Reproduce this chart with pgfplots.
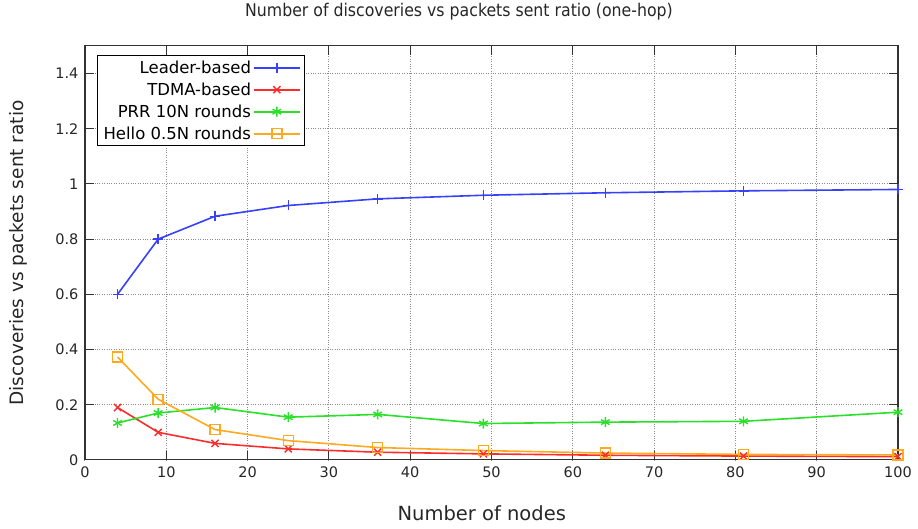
\documentclass[border=0pt]{standalone}
\usepackage{pgfplots}
\pgfplotsset{compat=1.18}
\usepackage{fontspec}
\setmainfont{DejaVu Sans}
\newfontfamily\titlefont{DejaVu Sans Condensed}
\definecolor{cLeader}{RGB}{55,65,250}
\definecolor{cTdma}{RGB}{250,45,45}
\definecolor{cPrr}{RGB}{40,225,40}
\definecolor{cHello}{RGB}{255,170,30}
\begin{document}
\begin{tikzpicture}
\begin{axis}[
  name=ax,
  scale only axis, width=813pt, height=414pt,
  xmin=0, xmax=100, ymin=0, ymax=1.5,
  xtick={0,10,20,30,40,50,60,70,80,90,100},
  ytick={0,0.2,0.4,0.6,0.8,1,1.2,1.4},
  yticklabels={0,0.2,0.4,0.6,0.8,1,1.2,1.4},
  /pgf/number format/assume math mode=true,
  grid=major,
  grid style={dotted, black!45, line width=1pt},
  axis line style={line width=1.1pt, black!80},
  tick style={line width=1.1pt, black!80},
  major tick length=9pt,
  tick align=inside,
  ticklabel style={font=\fontsize{14.5}{17}\selectfont, black!85},
  xticklabel style={yshift=-3pt},
  yticklabel style={xshift=-3pt},
  title={Number of discoveries vs packets sent ratio (one-hop)},
  title style={font=\titlefont\fontsize{17.5}{21}\selectfont, black!85, at={(axis description cs:0.46,1.068)}, anchor=center},
  xlabel={Number of nodes},
  xlabel style={font=\fontsize{19.5}{23}\selectfont, black!85, at={(axis description cs:0.488,-0.128)}, anchor=center},
  ylabel={Discoveries vs packets sent ratio},
  ylabel style={font=\fontsize{18.5}{22}\selectfont, black!85, at={(axis description cs:-0.0824,0.5)}, anchor=center},
  every axis plot/.append style={line width=1.6pt, mark size=5pt, mark options={solid, line width=1.4pt}},
  legend plot pos=right,
  legend cell align=right,
  legend image code/.code={
    \draw[mark=none, line width=1.8pt] (0pt,0pt) -- (46pt,0pt);
    \draw[line width=1.6pt] plot coordinates {(23pt,0pt)};},
  legend style={at={(axis description cs:0.0148,0.978)}, anchor=north west,
    draw=black, line width=1.1pt, fill=white,
    font=\fontsize{16.5}{19}\selectfont,
    row sep=4pt, inner xsep=4pt, inner ysep=3pt},
]
\addplot[color=cLeader, mark=+] coordinates {
  (4,0.600) (9,0.800) (16,0.883) (25,0.922) (36,0.946) (49,0.959) (64,0.968) (81,0.975) (100,0.980)};
\addlegendentry{Leader-based}
\addplot[color=cTdma, mark=x] coordinates {
  (4,0.190) (9,0.100) (16,0.060) (25,0.040) (36,0.028) (49,0.022) (64,0.017) (81,0.014) (100,0.012)};
\addlegendentry{TDMA-based}
\addplot[color=cPrr, mark=asterisk] coordinates {
  (4,0.134) (9,0.170) (16,0.190) (25,0.155) (36,0.165) (49,0.132) (64,0.137) (81,0.140) (100,0.173)};
\addlegendentry{PRR 10N rounds}
\addplot[color=cHello, mark=square] coordinates {
  (4,0.373) (9,0.220) (16,0.110) (25,0.070) (36,0.045) (49,0.034) (64,0.025) (81,0.020) (100,0.018)};
\addlegendentry{Hello 0.5N rounds}
\end{axis}
\path ([xshift=-85pt,yshift=-69pt]ax.south west) rectangle ([xshift=20pt,yshift=43pt]ax.north east);
\end{tikzpicture}
\end{document}
